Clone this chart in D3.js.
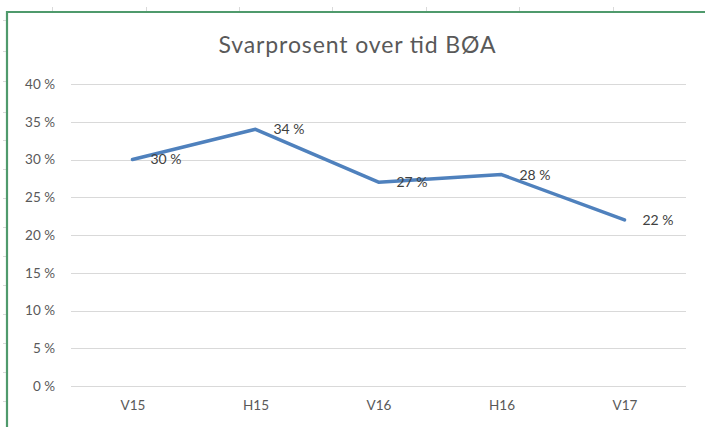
<!DOCTYPE html>
<html><head><meta charset="utf-8">
<script src="https://cdn.jsdelivr.net/npm/d3@7"></script>
<style>
html,body{margin:0;padding:0;background:#fff;}
svg{display:block;}
text{font-family:"Lato","Open Sans",sans-serif;}
</style></head><body>
<script>
const title = "Svarprosent over tid BØA";
const categories = ["V15","H15","V16","H16","V17"];
const values = [0.30, 0.34, 0.27, 0.28, 0.22];
const yTicks = [0,0.05,0.10,0.15,0.20,0.25,0.30,0.35,0.40];

(function(){
const W = 705, H = 427;
const svg = d3.select("body").append("svg").attr("width",W).attr("height",H);

// spreadsheet gridline stubs outside the chart frame
const colX = [52,146,239,332,426,519,613];
svg.selectAll("line.col").data(colX).join("line")
  .attr("x1",d=>d+0.5).attr("x2",d=>d+0.5).attr("y1",7).attr("y2",11)
  .attr("stroke","#dadada").attr("stroke-width",1);
const rowY = [20,51,81,112,140,169,198,227,256,285,314,343,372,401];
svg.selectAll("line.row").data(rowY).join("line")
  .attr("x1",3).attr("x2",6).attr("y1",d=>d+0.5).attr("y2",d=>d+0.5)
  .attr("stroke","#dadada").attr("stroke-width",1);

// chart frame (selection border)
svg.append("path").attr("d",`M7,${H+2}V12H${W+2}`)
  .attr("fill","none").attr("stroke","#4f9a6c").attr("stroke-width",2.2);

const pL = 71, pR = 686, pT = 84, pB = 386;
const x = d3.scalePoint().domain(categories).range([pL,pR]).padding(0.5);
const y = d3.scaleLinear().domain([0,0.40]).range([pB,pT]);

// gridlines
svg.append("g").selectAll("line").data(yTicks).join("line")
  .attr("x1",pL).attr("x2",pR)
  .attr("y1",d=>Math.round(y(d))+0.5).attr("y2",d=>Math.round(y(d))+0.5)
  .attr("stroke","#d9d9d9").attr("stroke-width",1);

// y axis labels
const fmt = d => Math.round(d*100) + " %";
const yAxis = d3.axisLeft(y).tickValues(yTicks).tickFormat(fmt).tickSize(0).tickPadding(0);
const gy = svg.append("g").attr("transform",`translate(55,0)`).call(yAxis);
gy.select(".domain").remove();
gy.selectAll("text").attr("fill","#595959").style("font-size","13.5px")
  .style("font-family","Lato, sans-serif");

// x axis labels
const xAxis = d3.axisBottom(x).tickSize(0).tickPadding(0);
const gx = svg.append("g").attr("transform",`translate(0,400)`).call(xAxis);
gx.select(".domain").remove();
gx.selectAll("text").attr("fill","#595959").style("font-size","13.5px")
  .style("font-family","Lato, sans-serif");

// line
const line = d3.line().x((d,i)=>x(categories[i])).y(d=>y(d));
svg.append("path").datum(values).attr("d",line)
  .attr("fill","none").attr("stroke","#4f81bd").attr("stroke-width",3.5)
  .attr("stroke-linejoin","round").attr("stroke-linecap","round");

// data labels
svg.append("g").selectAll("text").data(values).join("text")
  .attr("x",(d,i)=>x(categories[i])+18).attr("y",d=>y(d))
  .attr("dy","0.35em")
  .attr("fill","#404040").style("font-size","14px")
  .text(fmt);

// title
svg.append("text").attr("x",357).attr("y",53).attr("text-anchor","middle")
  .attr("fill","#595959").style("font-size","23px")
  .attr("textLength",277).attr("lengthAdjust","spacing").text(title);
})();
</script>
</body></html>
